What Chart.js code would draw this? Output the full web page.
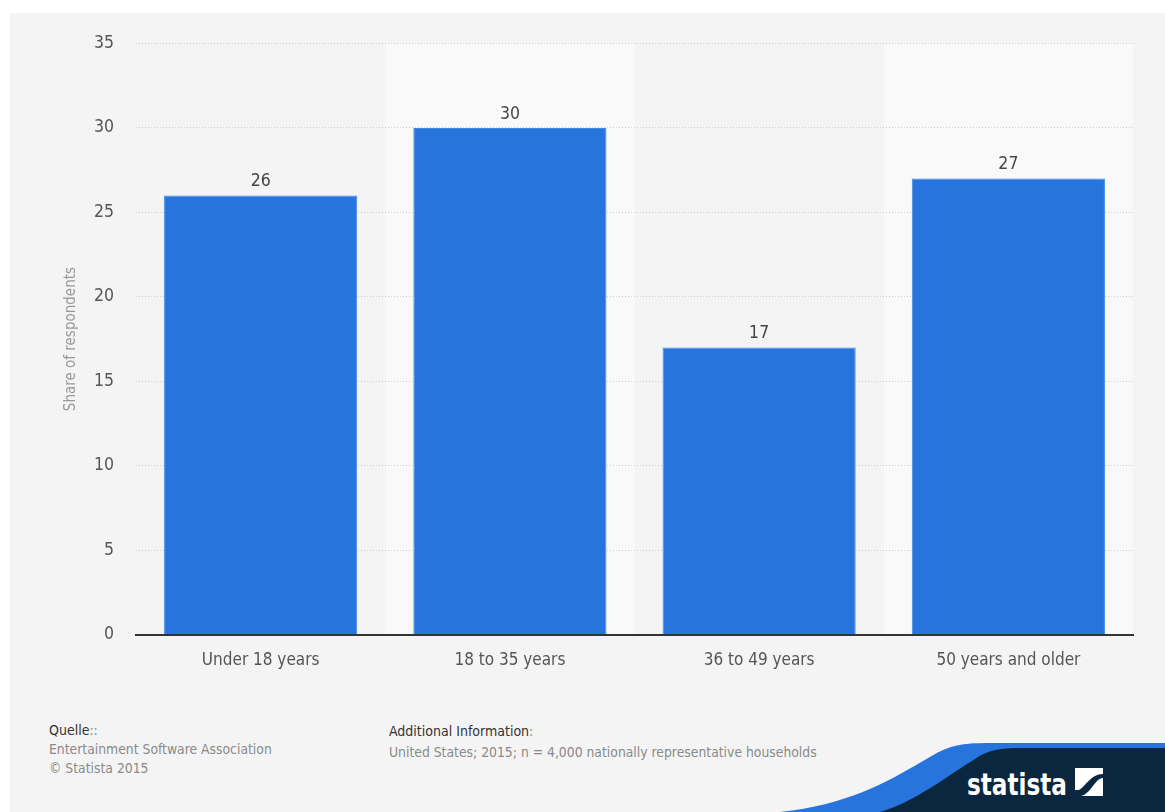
<!DOCTYPE html>
<html>
<head>
<meta charset="utf-8">
<script src="https://cdn.jsdelivr.net/npm/chart.js@4"></script>
<style>
    html, body { margin: 0; padding: 0; background: #fff; width: 1165px; height: 812px; overflow: hidden; }
    body { font-family: 'DejaVu Sans Condensed', 'DejaVu Sans', sans-serif; }
    .panel { position: absolute; left: 10px; top: 13px; width: 1155px; height: 799px; background: #f4f4f4; overflow: hidden; }
    .chart-box { position: absolute; left: 0; top: -2px; width: 1155px; height: 690px; }
    .footer { position: absolute; font-size: 13.8px; line-height: 19px; color: #8a8a8a; }
    .footer b { font-weight: normal; color: #333; font-size: 14px; }
    .logo { position: absolute; right: 0; bottom: 0; }
</style>
</head>
<body>
<div class="panel">
    <div class="chart-box"><canvas id="chart" width="1155" height="690"></canvas></div>
    <div class="footer" style="left: 39px; top: 708px;"><b>Quelle</b>::<br>Entertainment Software Association<br>© Statista 2015</div>
    <div class="footer" style="left: 379px; top: 709px;"><b>Additional Information</b>:<br><span style="line-height: 23px;">United States; 2015; n = 4,000 nationally representative households</span></div>
    <svg class="logo" width="400" height="80" viewBox="0 0 400 80">
        <path d="M15,80 C90,72 130,45 170,22 C185,14 195,11 225,11 L400,11 L400,80 Z" fill="#2775dc"/>
        <path d="M115,80 C150,70 185,42 210,27 C222,19 232,16 255,16 L400,16 L400,80 Z" fill="#0b2740"/>
        <text x="202" y="63" fill="#fff" font-family="'DejaVu Sans Condensed', 'DejaVu Sans'" font-weight="bold" font-size="31" textLength="100" lengthAdjust="spacingAndGlyphs">statista</text>
        <path d="M310,36 L338,36 L338,42 C326,42 320,55 314,58 L310,58 Z" fill="#fff"/>
        <path d="M316,64 C326,62 330,46 338,46 L338,64 Z" fill="#fff"/>
    </svg>
</div>
<script>
const categories = ['Under 18 years', '18 to 35 years', '36 to 49 years', '50 years and older'];
const shares = [26, 30, 17, 27];
const yTicks = [0, 5, 10, 15, 20, 25, 30, 35];

const fontFamily = "'DejaVu Sans Condensed', 'DejaVu Sans', sans-serif";

const bandPlugin = {
    id: 'bands',
    beforeDraw: (chart) => {
        const { ctx, chartArea, scales } = chart;
        const step = chartArea.width / categories.length;
        ctx.save();
        ctx.fillStyle = '#f9f9f9';
        categories.forEach((label, i) => {
            if (i % 2 === 1) {
                const center = scales.x.getPixelForValue(i);
                ctx.fillRect(center - step / 2, chartArea.top, step, chartArea.bottom - chartArea.top);
            }
        });
        ctx.restore();
    },
};

const valueLabelPlugin = {
    id: 'valueLabels',
    afterDatasetsDraw: (chart) => {
        const { ctx } = chart;
        const meta = chart.getDatasetMeta(0);
        ctx.save();
        ctx.font = `17.5px ${fontFamily}`;
        ctx.fillStyle = '#444';
        ctx.textAlign = 'center';
        ctx.textBaseline = 'bottom';
        meta.data.forEach((bar, i) => {
            ctx.fillText(String(shares[i]), bar.x, bar.y - 5);
        });
        ctx.restore();
    },
};

new Chart(document.getElementById('chart'), {
    type: 'bar',
    data: {
        labels: categories,
        datasets: [{
            data: shares,
            backgroundColor: '#2775dc',
            borderColor: '#4189e3',
            borderWidth: 1,
            barPercentage: 0.775,
            categoryPercentage: 1,
        }],
    },
    options: {
        responsive: false,
        animation: false,
        layout: { padding: { top: 24, right: 32, left: 52, bottom: 14 } },
        plugins: {
            legend: { display: false },
            tooltip: { enabled: false },
        },
        scales: {
            x: {
                grid: { display: false, drawTicks: false },
                border: { display: true, color: '#333', width: 2 },
                ticks: { color: '#555', font: { family: fontFamily, size: 17 }, padding: 16 },
            },
            y: {
                min: 0,
                max: 35,
                afterBuildTicks: (scale) => {
                    scale.ticks = yTicks.map((value) => ({ value }));
                },
                grid: { color: '#cfcfcf', drawTicks: false },
                border: { display: false, dash: [1, 2] },
                ticks: { color: '#555', font: { family: fontFamily, size: 17.5 }, padding: 22 },
                title: {
                    display: true,
                    text: 'Share of respondents',
                    color: '#999',
                    font: { family: fontFamily, size: 15 },
                    padding: { top: 0, bottom: -8 },
                },
            },
        },
    },
    plugins: [bandPlugin, valueLabelPlugin],
});
</script>
</body>
</html>
